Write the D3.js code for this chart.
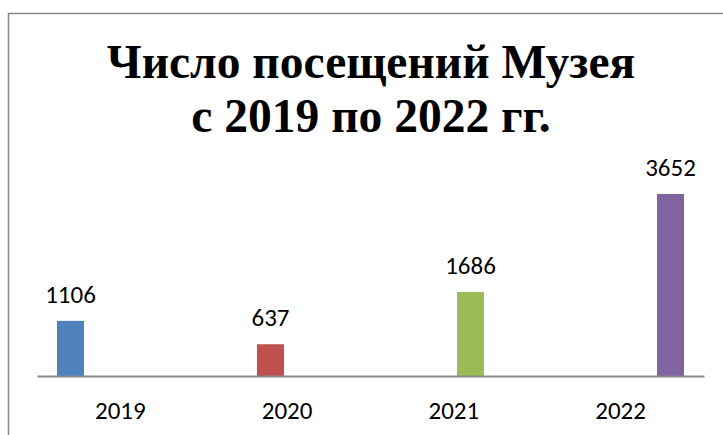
<!DOCTYPE html>
<html>
<head>
<meta charset="utf-8">
<script src="https://cdn.jsdelivr.net/npm/d3@7"></script>
<style>
  html, body { margin: 0; padding: 0; background: #fff; }
  svg { display: block; }
  .title { font-family: "Liberation Serif", "Times New Roman", serif; font-weight: bold; }
  .lbl { font-family: Carlito, Calibri, "Open Sans", sans-serif; }
</style>
</head>
<body>
<div id="chart"></div>
<script>
var titleLines = ["Число посещений Музея", "с 2019 по 2022 гг."];
var years = ["2019", "2020", "2021", "2022"];
var visits = [1106, 637, 1686, 3652];
var colors = ["#4F81BD", "#C0504D", "#9BBB59", "#8064A2"];

var width = 723, height = 435;
var baseY = 376;

var svg = d3.select("#chart").append("svg")
    .attr("width", width)
    .attr("height", height);

// frame of the chart area (cut off at right and bottom)
svg.append("path")
    .attr("d", "M8.5," + height + "V13.5H" + width)
    .attr("fill", "none")
    .attr("stroke", "#878787")
    .attr("stroke-width", 1.5);

// title
svg.append("text")
    .attr("class", "title")
    .attr("x", 371)
    .attr("y", 78)
    .attr("text-anchor", "middle")
    .attr("font-size", 47.5)
    .selectAll("tspan")
    .data(titleLines)
    .enter().append("tspan")
    .attr("x", 371)
    .attr("dy", function (d, i) { return i === 0 ? 0 : 54; })
    .text(function (d) { return d; });

var x = d3.scaleBand()
    .domain(years)
    .range([37, 704]);

// each year is its own series, so the bars sit at shifted slots in their group
var xInner = d3.scaleBand()
    .domain(years)
    .range([20, 146.75])
    .paddingInner(0.188);

var y = d3.scaleLinear()
    .domain([0, 4000])
    .range([baseY, baseY - 199.4]);

var data = years.map(function (yr, i) {
  return { year: yr, value: visits[i], color: colors[i] };
});

svg.selectAll("rect.bar")
    .data(data)
    .enter().append("rect")
    .attr("class", "bar")
    .attr("x", function (d) { return x(d.year) + xInner(d.year); })
    .attr("y", function (d) { return y(d.value); })
    .attr("width", xInner.bandwidth())
    .attr("height", function (d) { return baseY - y(d.value); })
    .attr("fill", function (d) { return d.color; });

// value labels
svg.selectAll("text.val")
    .data(data)
    .enter().append("text")
    .attr("class", "val lbl")
    .attr("x", function (d) { return x(d.year) + xInner(d.year) + xInner.bandwidth() / 2; })
    .attr("y", function (d) { return y(d.value) - 18; })
    .attr("text-anchor", "middle")
    .attr("font-size", 25)
    .attr("fill", "#000")
    .text(function (d) { return d.value; });

// category axis
var axis = svg.append("g")
    .attr("transform", "translate(0," + baseY + ")")
    .call(d3.axisBottom(x).tickSize(0).tickPadding(0));

axis.select(".domain")
    .attr("stroke", "#898989")
    .attr("stroke-width", 2);

axis.selectAll(".tick text")
    .attr("class", "lbl")
    .attr("dy", 0)
    .attr("y", 43)
    .attr("font-size", 25)
    .attr("fill", "#000");
</script>
</body>
</html>
